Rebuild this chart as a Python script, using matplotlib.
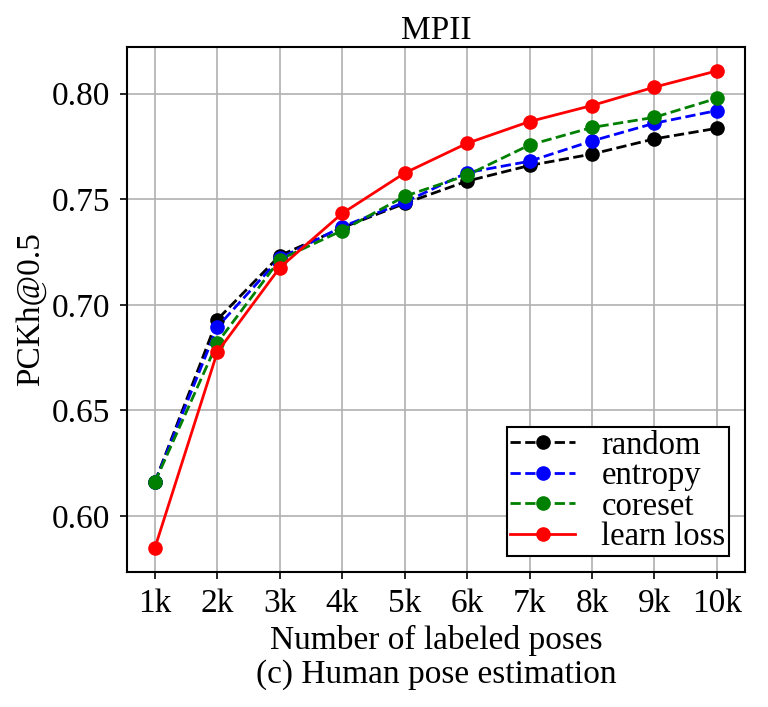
import numpy as np
import matplotlib.pyplot as plt

plt.rcParams['font.family'] = ['Liberation Serif', 'DejaVu Serif']
plt.rcParams['mathtext.fontset'] = 'stix'

x_labels = ["1k", "2k", "3k", "4k", "5k", "6k", "7k", "8k", "9k", "10k"]
random_ = [0.616, 0.693, 0.7233, 0.7365, 0.748, 0.7586, 0.766, 0.7714, 0.7786, 0.7836]
entropy = [0.616, 0.6895, 0.722, 0.737, 0.7486, 0.7626, 0.768, 0.7776, 0.786, 0.7920]
coreset = [0.616, 0.682, 0.7214, 0.7352, 0.7514, 0.7614, 0.7757, 0.7840, 0.7888, 0.7978]
learn_loss = [0.5848, 0.6776, 0.7176, 0.7433, 0.7624, 0.7765, 0.7868, 0.7944, 0.8031, 0.8108]

x = np.arange(len(x_labels))

fig = plt.figure(figsize=(7.68, 7.07), dpi=100)
ax = fig.add_axes([0.165, 0.191, 0.805, 0.7425])

ax.plot(x, random_, 'k--o', lw=2, ms=9.5, label='random')
ax.plot(x, entropy, 'b--o', lw=2, ms=9.5, label='entropy')
ax.plot(x, coreset, 'g--o', lw=2, ms=9.5, label='coreset')
ax.plot(x, learn_loss, 'r-o', lw=2, ms=9.5, label='learn loss')

ax.set_xticks(x)
ax.set_xticklabels(x_labels)
ax.set_yticks([0.60, 0.65, 0.70, 0.75, 0.80])
ax.tick_params(labelsize=24, length=5, width=1.2, pad=7)
for s in ax.spines.values():
    s.set_linewidth(1.5)
ax.grid(True, color='#b0b0b0', lw=1.2)
ax.set_title("MPII", fontsize=24)
ax.set_ylabel("PCKh@0.5", fontsize=24)
ax.set_xlabel("Number of labeled poses\n(c) Human pose estimation", fontsize=24,
              linespacing=1.15)

leg = ax.legend(loc='lower right', fontsize=23.5, fancybox=False, edgecolor='black',
                framealpha=1, borderpad=0.1, labelspacing=0.0, handletextpad=0.8,
                borderaxespad=0.5)
leg.get_frame().set_linewidth(1.5)

fig.savefig("out.png", dpi=100)
